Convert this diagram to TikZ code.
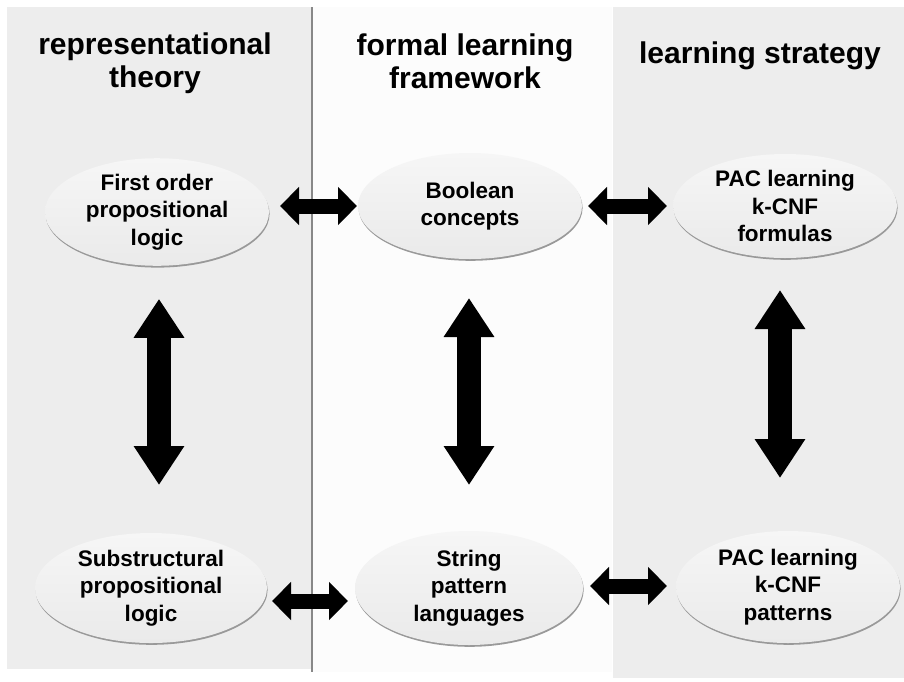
\documentclass[tikz,border=0pt]{standalone}
\usepackage{fontspec}
\setmainfont{Liberation Sans}
\usetikzlibrary{arrows.meta,shadows,shapes.geometric}
\definecolor{panelgray}{HTML}{EDEDED}
\definecolor{midpanel}{HTML}{FCFCFC}
\definecolor{divider}{HTML}{888888}
\definecolor{elltop}{HTML}{F6F6F6}
\definecolor{ellbot}{HTML}{EAEAEA}
\begin{document}
\begin{tikzpicture}[x=1pt,y=-1pt,
  heading/.style={font=\bfseries\fontsize{30}{33}\selectfont, align=center, inner sep=0pt},
  concept/.style={ellipse, inner sep=0pt, outer sep=0pt, top color=elltop, bottom color=ellbot, draw=none,
    drop shadow={shadow xshift=0.6pt, shadow yshift=-1.8pt, fill=black!40, opacity=1},
    font=\bfseries\fontsize{22.5}{27.5}\selectfont, align=center},
  harrow/.style={line width=15pt, {Triangle[length=19pt,width=37pt]}-{Triangle[length=19pt,width=37pt]}},
  varrow/.style={line width=24pt, {Triangle[length=39pt,width=48pt]}-{Triangle[length=39pt,width=48pt]}},
]
\useasboundingbox (0,0) rectangle (904,681);
% panels
\fill[panelgray] (7,7) rectangle (311,669);
\fill[midpanel] (313,7) rectangle (612,672);
\fill[panelgray] (613,7) rectangle (904,678);
\draw[divider, line width=2.5pt] (312,7) -- (312,672);
% headings
\node[heading] (h1) at (155,63.5) {representational\\theory};
\node[heading] (h2) at (465,61.5) {formal learning\\framework};
\node[heading, anchor=base] (h3) at (760,63) {learning strategy};
% concepts
\node[concept, minimum width=224pt, minimum height=106pt] (e11) at (157,212) {First order\\propositional\\logic};
\node[concept, minimum width=224pt, minimum height=106pt] (e12) at (470,206) {Boolean\\concepts};
\node[concept, minimum width=224pt, minimum height=104pt] (e13) at (785,206) {PAC learning\\k-CNF\\formulas};
\node[concept, minimum width=232pt, minimum height=110pt] (e21) at (151,588) {Substructural\\propositional\\logic};
\node[concept, minimum width=228pt, minimum height=114pt] (e22) at (469,588) {String\\pattern\\languages};
\node[concept, minimum width=224pt, minimum height=112pt] (e23) at (788,587) {PAC learning\\k-CNF\\patterns};
% horizontal arrows
\draw[harrow] ([xshift=11pt,yshift=6pt]e11.east) -- ([xshift=-1pt]e12.west);
\draw[harrow] ([xshift=6pt]e12.east) -- ([xshift=-6pt]e13.west);
\draw[harrow] ([xshift=5pt,yshift=-13pt]e21.east) -- ([xshift=-7pt,yshift=-13pt]e22.west);
\draw[harrow] ([xshift=7pt,yshift=2pt]e22.east) -- ([xshift=-9pt,yshift=1pt]e23.west);
% vertical arrows
\draw[varrow] ([xshift=2pt,yshift=-33pt]e11.south) -- ([xshift=8pt,yshift=48pt]e21.north);
\draw[varrow] ([xshift=-1pt,yshift=-39pt]e12.south) -- ([yshift=46pt]e22.north);
\draw[varrow] ([xshift=-5pt,yshift=-32pt]e13.south) -- ([xshift=-8pt,yshift=53pt]e23.north);
\end{tikzpicture}
\end{document}
